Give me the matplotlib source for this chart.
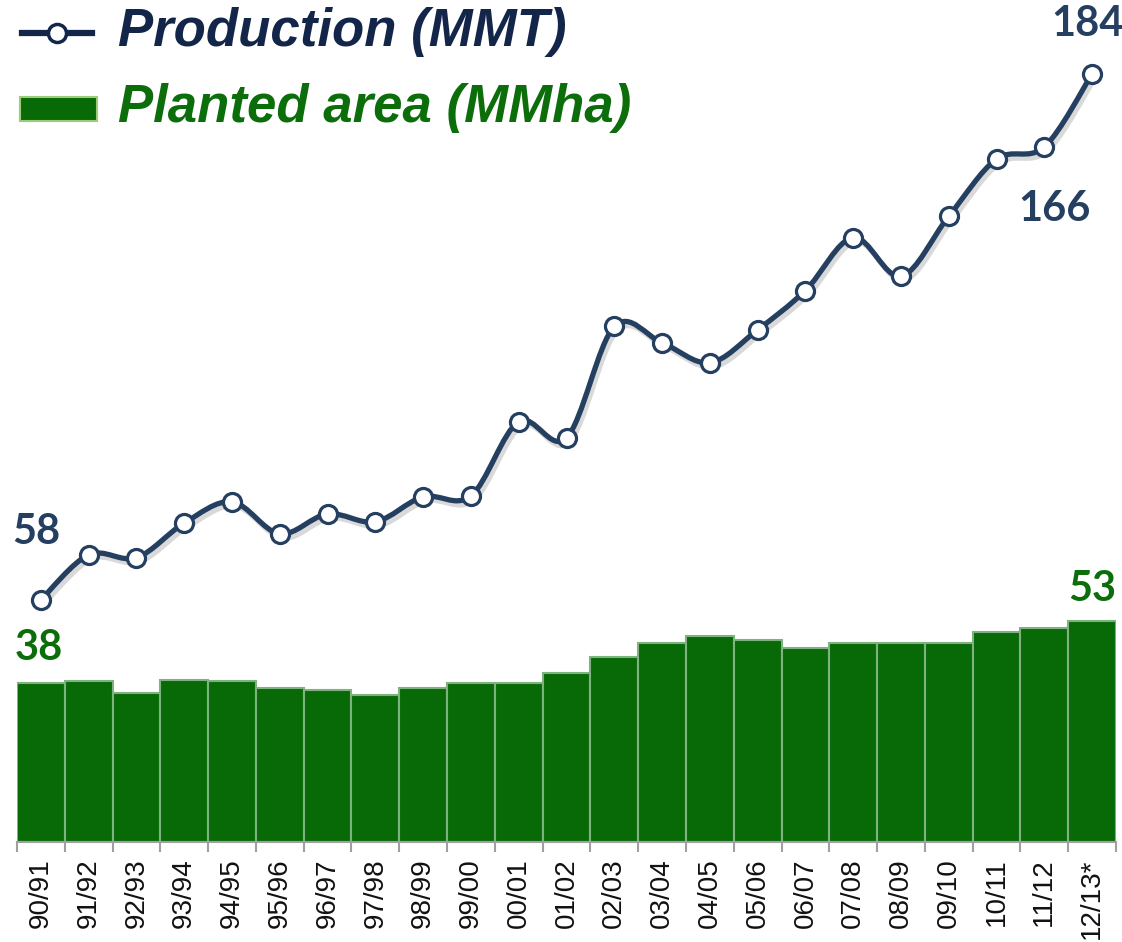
import matplotlib
matplotlib.use('Agg')
import matplotlib.pyplot as plt
import matplotlib.patheffects as pe
from matplotlib.path import Path
from matplotlib.patches import PathPatch, Rectangle
from matplotlib.lines import Line2D
import numpy as np

seasons = ['90/91', '91/92', '92/93', '93/94', '94/95', '95/96', '96/97', '97/98',
           '98/99', '99/00', '00/01', '01/02', '02/03', '03/04', '04/05', '05/06',
           '06/07', '07/08', '08/09', '09/10', '10/11', '11/12', '12/13*']
production = [58, 68.8, 68.1, 76.4, 81.5, 73.8, 78.6, 76.7, 82.7, 82.9, 100.7, 96.8,
              123.5, 119.6, 114.8, 122.7, 132.1, 144.8, 135.5, 149.9, 163.6, 166.5, 184]
area = [38, 38.5, 35.6, 38.9, 38.5, 37.0, 36.5, 35.1, 37.0, 38.0, 38.0, 40.4,
        44.2, 47.6, 49.3, 48.3, 46.4, 47.6, 47.6, 47.6, 50.2, 51.2, 53]

navy = '#243F60'
navy_txt = '#13264A'
green = '#076A07'
green_txt = '#0B6E0B'

fig = plt.figure(figsize=(11.22, 9.42), dpi=100)
ax = fig.add_axes([17/1122, 1 - 842/942, (1116 - 17)/1122, 842/942])
x = np.arange(len(seasons))

ax.bar(x, area, width=1.0, color=green, edgecolor='#7FB27F', linewidth=1.5, zorder=2)

# smoothed line (Catmull-Rom as cubic Bezier path)
pts = np.column_stack([x, production]).astype(float)
verts = [pts[0]]
codes = [Path.MOVETO]
n = len(pts)
for i in range(n - 1):
    p0 = pts[max(i - 1, 0)]
    p1 = pts[i]
    p2 = pts[i + 1]
    p3 = pts[min(i + 2, n - 1)]
    c1 = p1 + (p2 - p0) / 6
    c2 = p2 - (p3 - p1) / 6
    verts += [c1, c2, p2]
    codes += [Path.CURVE4] * 3
curve = PathPatch(Path(verts, codes), fill=False, edgecolor=navy, linewidth=3.8,
                  capstyle='round', zorder=3,
                  path_effects=[pe.SimpleLineShadow(offset=(2, -3), alpha=0.15),
                                pe.Normal()])
ax.add_patch(curve)
ax.plot(x, production, linestyle='none', marker='o', markersize=13,
        markerfacecolor='white', markeredgecolor=navy, markeredgewidth=2.3, zorder=4)

ax.set_xlim(-0.5, len(seasons) - 0.5)
ax.set_ylim(0, 201.7)
for s in ['top', 'right', 'left']:
    ax.spines[s].set_visible(False)
ax.spines['bottom'].set_color('#A0A0A0')
ax.spines['bottom'].set_linewidth(1.5)
ax.set_yticks([])
ax.set_xticks(x)
ax.set_xticklabels(seasons, rotation=90, fontsize=20, family='Liberation Sans', color='#111111')
ax.tick_params(axis='x', which='major', length=0, pad=12)
ax.set_xticks(np.arange(-0.5, len(seasons)), minor=True)
ax.tick_params(axis='x', which='minor', length=7, width=1.5, color='#A0A0A0')

lab = dict(family='Lato', fontweight='bold', fontsize=30, ha='center', va='center',
           textcoords='offset pixels')
ax.annotate('58', (0, production[0]), xytext=(-5, 68), color=navy, **lab)
ax.annotate('184', (22, production[22]), xytext=(-5, 50), color=navy, **lab)
ax.annotate('166', (21, production[21]), xytext=(10, -62), color=navy, **lab)
ax.annotate('38', (0, area[0]), xytext=(-2, 35), color=green_txt, **lab)
ax.annotate('53', (22, area[22]), xytext=(0, 32), color=green_txt, **lab)

# legend drawn by hand
fig.add_artist(Line2D([22/1122, 92/1122], [1 - 33/942] * 2, color=navy_txt, linewidth=4.5))
fig.add_artist(Line2D([57/1122], [1 - 33/942], marker='o', markersize=13,
                      markerfacecolor='white', markeredgecolor=navy_txt, markeredgewidth=2.5))
fig.add_artist(Rectangle((20/1122, 1 - 121/942), 77/1122, 24/942, facecolor=green,
                         edgecolor='#9CCB7A', linewidth=1.5, transform=fig.transFigure))
fig.text(118/1122, 1 - 32/942, 'Production (MMT)', family='Liberation Sans',
         fontweight='bold', style='italic', fontsize=38, color=navy_txt, va='center')
fig.text(118/1122, 1 - 108/942, 'Planted area (MMha)', family='Liberation Sans',
         fontweight='bold', style='italic', fontsize=38, color=green_txt, va='center')

fig.savefig('out.png', dpi=100)
